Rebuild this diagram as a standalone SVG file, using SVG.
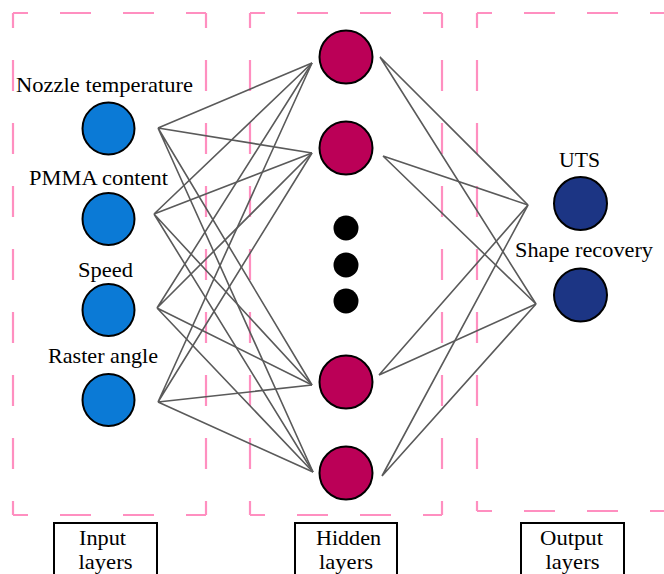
<svg xmlns="http://www.w3.org/2000/svg" width="664" height="574" viewBox="0 0 664 574">
<style>
.frame{fill:none;stroke:#ff8fc0;stroke-width:2.2;stroke-dasharray:31 32;stroke-dashoffset:16}
.link{stroke:#5a5a5a;stroke-width:1.6;fill:none}
.in{fill:#0b7ad6;stroke:#000;stroke-width:2}
.hid{fill:#bb0057;stroke:#000;stroke-width:2}
.out{fill:#1c3584;stroke:#000;stroke-width:2}
.dot{fill:#000}
.lbl{font-family:'Liberation Serif','DejaVu Serif','Noto Serif',serif;font-size:21px;fill:#000;text-anchor:middle}
.box{fill:#fff;stroke:#000;stroke-width:2}
</style>
<rect width="664" height="574" fill="#fff"/>
<g id="frames">
<path class="frame" d="M13,13 H206"/><path class="frame" d="M206,13 V515"/><path class="frame" d="M13,13 V515"/><path class="frame" d="M13,515 H206"/>
<path class="frame" d="M250,13 H442"/><path class="frame" d="M442,13 V515"/><path class="frame" d="M250,13 V515"/><path class="frame" d="M250,515 H442"/>
<path class="frame" d="M477,13 H700"/><path class="frame" d="M477,13 V511"/><path class="frame" d="M477,511 H700"/>
</g>
<g id="connectors">
<path class="link" d="M158,128 L312,63 M158,128 L312,153 M158,128 L312,385 M158,128 L313,472"/>
<path class="link" d="M154,214 L312,63 M154,214 L312,153 M154,214 L312,385 M154,214 L313,472"/>
<path class="link" d="M157,308 L312,63 M157,308 L312,153 M157,308 L312,385 M157,308 L313,472"/>
<path class="link" d="M158,402 L312,63 M158,402 L312,153 M158,402 L312,385 M158,402 L313,472"/>
<path class="link" d="M380,57 L528,205 M380,57 L536,304"/>
<path class="link" d="M383,156 L528,205 M383,156 L536,304"/>
<path class="link" d="M379,375 L528,205 M379,375 L536,304"/>
<path class="link" d="M382,476 L528,205 M382,476 L536,304"/>
</g>
<g id="in1"><text class="lbl" x="104.5" y="92" textLength="177" lengthAdjust="spacingAndGlyphs">Nozzle temperature</text><circle class="in" cx="108.5" cy="128.5" r="26"/></g>
<g id="in2"><text class="lbl" x="98.5" y="185" textLength="139" lengthAdjust="spacingAndGlyphs">PMMA content</text><circle class="in" cx="108.5" cy="219" r="26"/></g>
<g id="in3"><text class="lbl" x="105.5" y="277" textLength="55" lengthAdjust="spacingAndGlyphs">Speed</text><circle class="in" cx="108.5" cy="310" r="26"/></g>
<g id="in4"><text class="lbl" x="103" y="363" textLength="110" lengthAdjust="spacingAndGlyphs">Raster angle</text><circle class="in" cx="108.5" cy="400" r="26"/></g>
<g id="h1"><circle class="hid" cx="346" cy="57" r="26.5"/></g>
<g id="h2"><circle class="hid" cx="346" cy="148" r="26.5"/></g>
<g id="dots"><circle class="dot" cx="346" cy="228" r="12.5"/><circle class="dot" cx="346" cy="265" r="12.5"/><circle class="dot" cx="346" cy="301" r="12.5"/></g>
<g id="h3"><circle class="hid" cx="346" cy="382" r="26.5"/></g>
<g id="h4"><circle class="hid" cx="346" cy="473" r="26.5"/></g>
<g id="o1"><text class="lbl" x="579.5" y="167" textLength="41" lengthAdjust="spacingAndGlyphs">UTS</text><circle class="out" cx="580.5" cy="203.5" r="26.5"/></g>
<g id="o2"><text class="lbl" x="584" y="257" textLength="138" lengthAdjust="spacingAndGlyphs">Shape recovery</text><circle class="out" cx="580.5" cy="295" r="26.5"/></g>
<g id="lab-input"><rect class="box" x="54" y="523" width="103" height="70"/><text class="lbl" x="102.5" y="545" textLength="47" lengthAdjust="spacingAndGlyphs">Input</text><text class="lbl" x="105.5" y="569" textLength="54" lengthAdjust="spacingAndGlyphs">layers</text></g>
<g id="lab-hidden"><rect class="box" x="295" y="523" width="102" height="70"/><text class="lbl" x="348.5" y="545" textLength="65" lengthAdjust="spacingAndGlyphs">Hidden</text><text class="lbl" x="346" y="569" textLength="54" lengthAdjust="spacingAndGlyphs">layers</text></g>
<g id="lab-output"><rect class="box" x="521" y="523" width="103" height="70"/><text class="lbl" x="571.5" y="545" textLength="63" lengthAdjust="spacingAndGlyphs">Output</text><text class="lbl" x="572.5" y="569" textLength="54" lengthAdjust="spacingAndGlyphs">layers</text></g>
</svg>
